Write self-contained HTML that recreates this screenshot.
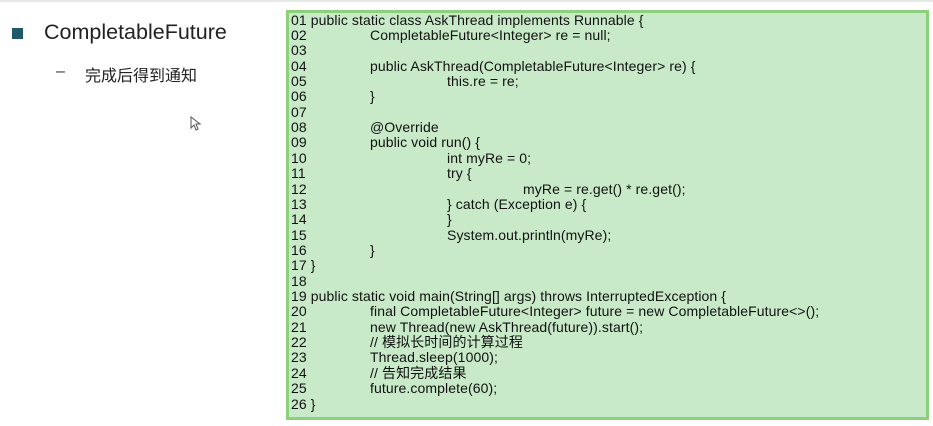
<!DOCTYPE html>
<html><head><meta charset="utf-8"><style>
body{margin:0;width:933px;height:426px;background:#fff;position:relative;overflow:hidden;font-family:"Liberation Sans","Noto Sans CJK SC",sans-serif;}
.top{position:absolute;left:0;top:0;width:933px;height:2px;background:#e8e8e8}
.bul{position:absolute;left:12px;top:28px;width:11px;height:11px;background:#1f5a6a}
.t1{position:absolute;left:44px;top:20px;font-size:21.5px;color:#222}
.dash{position:absolute;left:56px;top:63px;font-size:16px;color:#333}
.t2{position:absolute;left:85px;top:62px;font-size:16px;color:#222}
.box{position:absolute;left:286px;top:10px;width:637px;height:404px;background:#c8eac8;border:3px solid #8dd07c;}
.l{position:absolute;font-size:14px;color:#111;white-space:pre;letter-spacing:0.1px;line-height:15px}
.n{left:291px}
</style></head><body>
<div class="top"></div>
<div class="bul"></div>
<div class="t1">CompletableFuture</div>
<div class="dash">–</div>
<div class="t2">完成后得到通知</div>
<svg style="position:absolute;left:190px;top:116px" width="12" height="16"><path d="M1 1 L1 12 L4 9 L6 14 L8 13 L6 8 L10 8 Z" fill="#fff" stroke="#555" stroke-width="1"/></svg>
<div class="box"></div>
<div id="code"></div>
<script>
var L=[
["01 public static class AskThread implements Runnable {",0],
["02","CompletableFuture<Integer> re = null;",1],
["03","",0],
["04","public AskThread(CompletableFuture<Integer> re) {",1],
["05","this.re = re;",2],
["06","}",1],
["07","",0],
["08","@Override",1],
["09","public void run() {",1],
["10","int myRe = 0;",2],
["11","try {",2],
["12","myRe = re.get() * re.get();",3],
["13","} catch (Exception e) {",2],
["14","}",2],
["15","System.out.println(myRe);",2],
["16","}",1],
["17 }",0],
["18","",0],
["19 public static void main(String[] args) throws InterruptedException {",0],
["20","final CompletableFuture<Integer> future = new CompletableFuture<>();",1],
["21","new Thread(new AskThread(future)).start();",1],
["22","// 模拟长时间的计算过程",1],
["23","Thread.sleep(1000);",1],
["24","// 告知完成结果",1],
["25","future.complete(60);",1],
["26 }",0]];
var X=[0,370,447,523],h='';
L.forEach(function(r,i){var y=(12.5+i*15.36).toFixed(1);
h+='<div class="l n" style="top:'+y+'px">'+r[0].replace(/</g,'&lt;')+'</div>';
if(r.length==3&&r[1])h+='<div class="l" style="left:'+X[r[2]]+'px;top:'+y+'px">'+r[1].replace(/&/g,'&amp;').replace(/</g,'&lt;')+'</div>';});
document.getElementById('code').innerHTML=h;
</script>
</body></html>
